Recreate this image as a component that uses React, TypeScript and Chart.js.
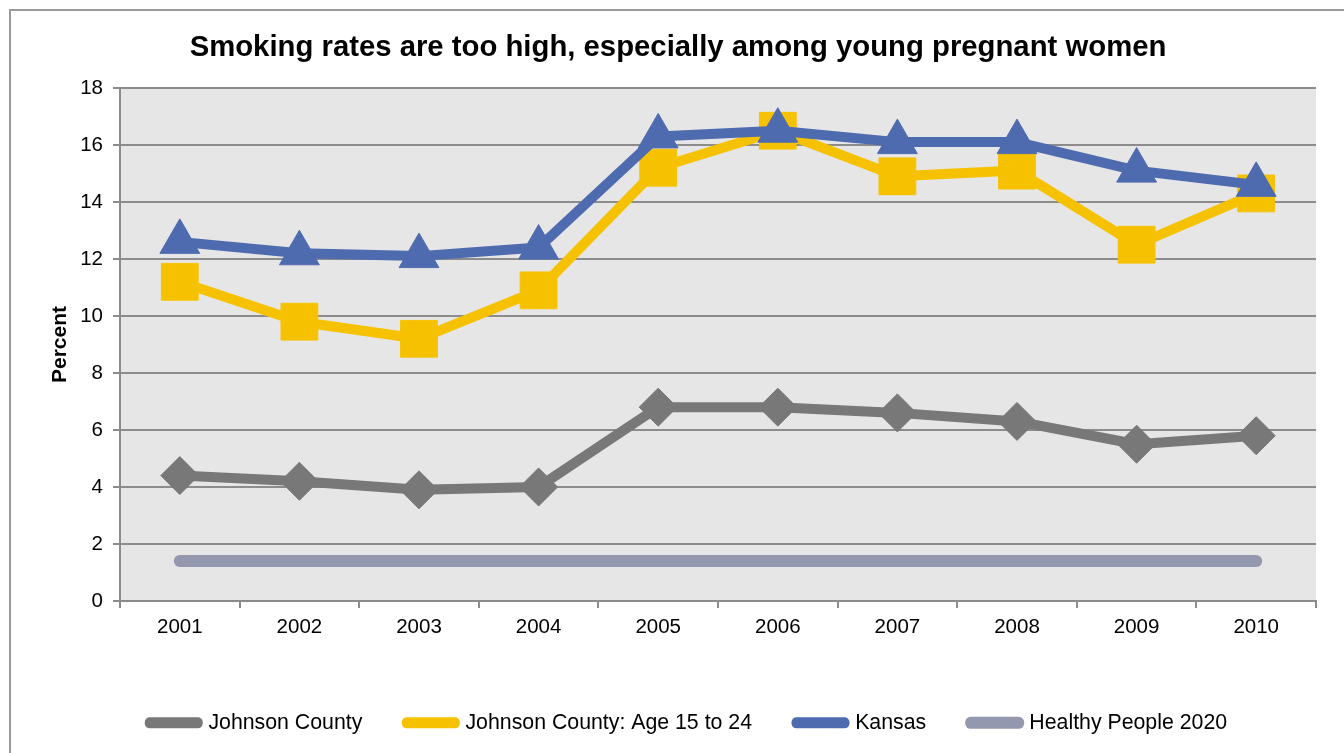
import React, { useEffect, useRef } from 'react';
import { Chart, registerables } from 'chart.js';

Chart.register(...registerables);

const FONT = "'Liberation Sans', Arial, Helvetica, sans-serif";

const years = ['2001', '2002', '2003', '2004', '2005', '2006', '2007', '2008', '2009', '2010'];
const johnsonCounty = [4.4, 4.2, 3.9, 4.0, 6.8, 6.8, 6.6, 6.3, 5.5, 5.8];
const johnsonCountyYoung = [11.2, 9.8, 9.2, 10.9, 15.2, 16.5, 14.9, 15.1, 12.5, 14.3];
const kansas = [12.6, 12.2, 12.1, 12.4, 16.3, 16.5, 16.1, 16.1, 15.1, 14.6];
const healthyPeople2020 = [1.4, 1.4, 1.4, 1.4, 1.4, 1.4, 1.4, 1.4, 1.4, 1.4];

const seriesLabels = ['Johnson County', 'Johnson County: Age 15 to 24', 'Kansas', 'Healthy People 2020'];
const seriesColors = ['#787878', '#F6C200', '#4F6BB0', '#9498AE'];

const titleText = 'Smoking rates are too high, especially among young pregnant women';
const yAxisTitle = 'Percent';

const plotBackground = {
  id: 'plotBackground',
  beforeDraw(chart: any) {
    const { ctx, chartArea: a } = chart;
    ctx.save();
    ctx.fillStyle = '#E6E6E6';
    ctx.fillRect(a.left, a.top, a.right - a.left, a.bottom - a.top);
    ctx.restore();
  },
};

export default function App() {
  const canvasRef = useRef<HTMLCanvasElement | null>(null);

  useEffect(() => {
    if (!canvasRef.current) return;
    const grid = '#8C8C8C';
    const chart = new Chart(canvasRef.current, {
      type: 'line',
      data: {
        labels: years,
        datasets: [
          {
            label: seriesLabels[0],
            data: johnsonCounty,
            borderColor: seriesColors[0],
            backgroundColor: seriesColors[0],
            borderWidth: 10,
            borderJoinStyle: 'round',
            pointStyle: 'rectRot',
            pointRadius: 19,
            pointHoverRadius: 19,
            pointBorderWidth: 1,
            order: 3,
          },
          {
            label: seriesLabels[1],
            data: johnsonCountyYoung,
            borderColor: seriesColors[1],
            backgroundColor: seriesColors[1],
            borderWidth: 10,
            borderJoinStyle: 'round',
            pointStyle: 'rect',
            pointRadius: 26,
            pointHoverRadius: 26,
            pointBorderWidth: 1,
            order: 2,
          },
          {
            label: seriesLabels[2],
            data: kansas,
            borderColor: seriesColors[2],
            backgroundColor: seriesColors[2],
            borderWidth: 10,
            borderJoinStyle: 'round',
            pointStyle: 'triangle',
            pointRadius: 23,
            pointHoverRadius: 23,
            pointBorderWidth: 1,
            order: 1,
          },
          {
            label: seriesLabels[3],
            data: healthyPeople2020,
            borderColor: seriesColors[3],
            backgroundColor: seriesColors[3],
            borderWidth: 12,
            borderCapStyle: 'round',
            pointRadius: 0,
            pointHoverRadius: 0,
            order: 4,
          },
        ],
      },
      options: {
        responsive: false,
        animation: false,
        events: [],
        layout: { padding: { top: 0, left: 40, right: 28, bottom: 9.5 } },
        plugins: {
          tooltip: { enabled: false },
          title: {
            display: true,
            text: titleText,
            color: '#000',
            font: { family: FONT, size: 29.3, weight: 'bold' },
            padding: { top: 30.4, bottom: 22.4 },
          },
          legend: {
            display: true,
            position: 'bottom',
            fullSize: false,
            labels: {
              color: '#000',
              font: { family: FONT, size: 21.3 },
              boxWidth: 48,
              boxHeight: 1,
              padding: 9,
              generateLabels: (c: any) =>
                c.data.datasets.map((ds: any, i: number) => ({
                  text: ds.label + (i === c.data.datasets.length - 1 ? '          ' : '      '),
                  fillStyle: ds.borderColor,
                  strokeStyle: ds.borderColor,
                  lineWidth: i === 3 ? 11 : 10,
                  lineJoin: 'round',
                  lineCap: 'round',
                  hidden: false,
                  datasetIndex: i,
                  fontColor: '#000',
                })),
            },
          },
        },
        scales: {
          x: {
            type: 'category',
            offset: true,
            grid: {
              display: true,
              offset: true,
              drawOnChartArea: false,
              drawTicks: true,
              tickLength: 7,
              tickColor: grid,
              tickWidth: 2,
              color: grid,
              lineWidth: 2,
            },
            border: { display: true, color: grid, width: 2 },
            ticks: {
              color: '#000',
              font: { family: FONT, size: 20.5 },
              padding: 7,
              maxRotation: 0,
              autoSkip: false,
            },
            afterFit: (scale: any) => {
              scale.height = 102.2;
            },
          },
          y: {
            min: 0,
            max: 18,
            ticks: {
              stepSize: 2,
              color: '#000',
              font: { family: FONT, size: 20.5 },
              padding: 10,
            },
            grid: {
              color: grid,
              lineWidth: 2,
              tickLength: 7,
              tickColor: grid,
              tickWidth: 2,
            },
            border: { display: true, color: grid, width: 2 },
            title: {
              display: true,
              text: yAxisTitle,
              color: '#000',
              font: { family: FONT, size: 21, weight: 'bold' },
              padding: { top: 7.4, bottom: 0 },
            },
            afterFit: (scale: any) => {
              scale.width = 80;
            },
          },
        },
      },
      plugins: [plotBackground],
    } as any);
    return () => chart.destroy();
  }, []);

  return (
    <div style={{ position: 'fixed', left: 0, top: 0, width: 1344, height: 753, background: '#fff', overflow: 'hidden' }}>
      <div
        style={{
          position: 'absolute',
          left: 9,
          top: 9,
          width: 1400,
          height: 800,
          borderLeft: '2px solid #9A9A9A',
          borderTop: '2px solid #9A9A9A',
        }}
      />
      <canvas ref={canvasRef} width={1344} height={753} style={{ position: 'absolute', left: 0, top: 0, display: 'block' }} />
    </div>
  );
}
